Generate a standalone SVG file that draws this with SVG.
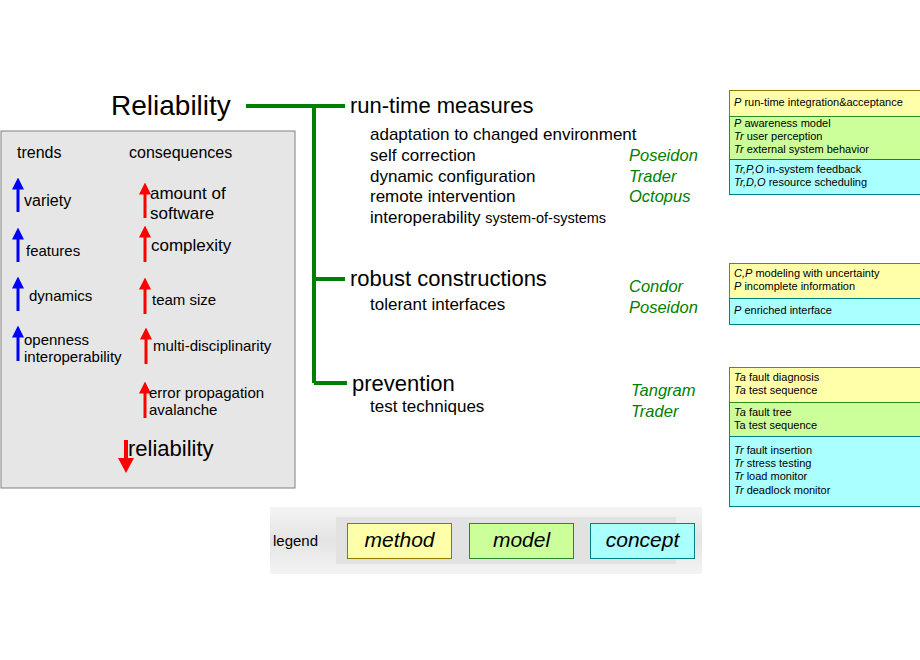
<svg xmlns="http://www.w3.org/2000/svg" width="920" height="660" viewBox="0 0 920 660">
<style>
text{font-family:"Liberation Sans",Arial,sans-serif;fill:#000}
.t{font-size:16px}
.s{font-size:15px}
.r{font-size:17px}
.n{font-size:11px}
.g{font-size:16.5px;fill:#008000;font-style:italic}
.y{fill:#ffffaa;stroke:#8a7a00}
.m{fill:#ccff99;stroke:#2a8a2a}
.c{fill:#aaffff;stroke:#008080}
.br{stroke:#008000;stroke-width:4;fill:none}
.blue{stroke:#0000ff;stroke-width:3}
.red{stroke:#ff0000;stroke-width:3}
</style>
<defs>
<marker id="ab" markerWidth="4" markerHeight="4" refX="0.5" refY="2" orient="auto" viewBox="0 0 4 4"><path d="M0,0 L4,2 L0,4 Z" fill="#0000ff"/></marker>
<marker id="ar" markerWidth="4" markerHeight="4" refX="0.5" refY="2" orient="auto" viewBox="0 0 4 4"><path d="M0,0 L4,2 L0,4 Z" fill="#ff0000"/></marker>
<linearGradient id="lg" x1="0" x2="0" y1="0" y2="1"><stop offset="0" stop-color="#f4f4f4"/><stop offset="0.5" stop-color="#e4e4e4"/><stop offset="1" stop-color="#f4f4f4"/></linearGradient>
</defs>
<rect width="920" height="660" fill="#fff"/>
<g id="connectors">
<path class="br" d="M246,106 H345 M314,106 V383 M314,279 H345 M314,383 H347"/>
</g>
<g id="reliability"><text x="111" y="115" style="font-size:28px">Reliability</text></g>
<g id="trends-box">
<rect x="1" y="131" width="294" height="357" fill="#e6e6e6" stroke="#808080"/>
<text x="17" y="158" class="t">trends</text>
<text x="129" y="158" class="t">consequences</text>
<line class="blue" x1="18" y1="212" x2="18" y2="188" marker-end="url(#ab)"/><text x="24" y="206" class="t">variety</text>
<line class="blue" x1="18" y1="262" x2="18" y2="238" marker-end="url(#ab)"/><text x="26" y="256" class="s">features</text>
<line class="blue" x1="18" y1="311" x2="18" y2="287" marker-end="url(#ab)"/><text x="29" y="301" class="s">dynamics</text>
<line class="blue" x1="18" y1="361" x2="18" y2="336" marker-end="url(#ab)"/><text x="24" y="345" class="s">openness</text><text x="24" y="362" class="s">interoperability</text>
<line class="red" x1="145" y1="218" x2="145" y2="193" marker-end="url(#ar)"/><text x="150" y="199" class="r">amount of</text><text x="150" y="219" class="r">software</text>
<line class="red" x1="145" y1="262" x2="145" y2="236" marker-end="url(#ar)"/><text x="151" y="251" class="r">complexity</text>
<line class="red" x1="145" y1="314" x2="145" y2="288" marker-end="url(#ar)"/><text x="152" y="305" class="s">team size</text>
<line class="red" x1="146" y1="364" x2="146" y2="338" marker-end="url(#ar)"/><text x="153" y="351" class="s">multi-disciplinarity</text>
<line class="red" x1="145" y1="418" x2="145" y2="392" marker-end="url(#ar)"/><text x="149" y="398" class="s">error propagation</text><text x="149" y="415" class="s">avalanche</text>
<line x1="126" y1="440" x2="126" y2="462" stroke="#ff0000" stroke-width="4"/><path d="M118,458 L134,458 L126,473 Z" fill="#ff0000"/>
<text x="128" y="456" style="font-size:22px">reliability</text>
</g>
<g id="runtime">
<text x="350" y="113" style="font-size:22px">run-time measures</text>
<text x="370" y="140" class="r">adaptation to changed environment</text>
<text x="370" y="161" class="r">self correction</text>
<text x="370" y="182" class="r">dynamic configuration</text>
<text x="370" y="202" class="r">remote intervention</text>
<text x="370" y="223" class="r">interoperability <tspan style="font-size:14.5px">system-of-systems</tspan></text>
<text x="629" y="161" class="g">Poseidon</text>
<text x="629" y="182" class="g">Trader</text>
<text x="629" y="202" class="g">Octopus</text>
</g>
<g id="robust">
<text x="350" y="286" style="font-size:22px">robust constructions</text>
<text x="370" y="310" class="r">tolerant interfaces</text>
<text x="629" y="292" class="g">Condor</text>
<text x="629" y="313" class="g">Poseidon</text>
</g>
<g id="prevention">
<text x="352" y="391" style="font-size:22px">prevention</text>
<text x="370" y="412" class="r">test techniques</text>
<text x="631" y="396" class="g">Tangram</text>
<text x="631" y="417" class="g">Trader</text>
</g>
<g id="boxes1">
<rect class="y" x="729.5" y="90.5" width="200" height="26"/>
<rect class="m" x="729.5" y="116.5" width="200" height="43"/>
<rect class="c" x="729.5" y="159.5" width="200" height="35"/>
<text x="734" y="106" class="n"><tspan font-style="italic">P</tspan> run-time integration&amp;acceptance</text>
<text x="734" y="127" class="n"><tspan font-style="italic">P</tspan> awareness model</text>
<text x="734" y="140" class="n"><tspan font-style="italic">Tr</tspan> user perception</text>
<text x="734" y="153" class="n"><tspan font-style="italic">Tr</tspan> external system behavior</text>
<text x="734" y="173" class="n"><tspan font-style="italic">Tr,P,O</tspan> in-system feedback</text>
<text x="734" y="186" class="n"><tspan font-style="italic">Tr,D,O</tspan> resource scheduling</text>
</g>
<g id="boxes2">
<rect class="y" x="729.5" y="263.5" width="200" height="35"/>
<rect class="c" x="729.5" y="298.5" width="200" height="26"/>
<text x="734" y="277" class="n"><tspan font-style="italic">C,P</tspan> modeling with uncertainty</text>
<text x="734" y="290" class="n"><tspan font-style="italic">P</tspan> incomplete information</text>
<text x="734" y="314" class="n"><tspan font-style="italic">P</tspan> enriched interface</text>
</g>
<g id="boxes3">
<rect class="y" x="729.5" y="367.5" width="200" height="35"/>
<rect class="m" x="729.5" y="402.5" width="200" height="34"/>
<rect class="c" x="729.5" y="436.5" width="200" height="70"/>
<text x="734" y="381" class="n"><tspan font-style="italic">Ta</tspan> fault diagnosis</text>
<text x="734" y="394" class="n"><tspan font-style="italic">Ta</tspan> test sequence</text>
<text x="734" y="416" class="n"><tspan font-style="italic">Ta</tspan> fault tree</text>
<text x="734" y="429" class="n">Ta test sequence</text>
<text x="734" y="454" class="n"><tspan font-style="italic">Tr</tspan> fault insertion</text>
<text x="734" y="467" class="n"><tspan font-style="italic">Tr</tspan> stress testing</text>
<text x="734" y="480" class="n"><tspan font-style="italic">Tr</tspan> load monitor</text>
<text x="734" y="494" class="n"><tspan font-style="italic">Tr</tspan> deadlock monitor</text>
</g>
<g id="legend">
<rect x="270" y="507" width="432" height="67" fill="url(#lg)"/>
<rect x="336" y="517" width="340" height="47" fill="#e2e2e2"/>
<text x="273" y="546" class="s" fill="#333">legend</text>
<rect class="y" x="347.5" y="523.5" width="104" height="35"/>
<rect class="m" x="469.5" y="523.5" width="104" height="35"/>
<rect class="c" x="590.5" y="523.5" width="104" height="35"/>
<text x="399.5" y="547" text-anchor="middle" style="font-size:21px;font-style:italic">method</text>
<text x="521.5" y="547" text-anchor="middle" style="font-size:21px;font-style:italic">model</text>
<text x="642.5" y="547" text-anchor="middle" style="font-size:21px;font-style:italic">concept</text>
</g>
</svg>
